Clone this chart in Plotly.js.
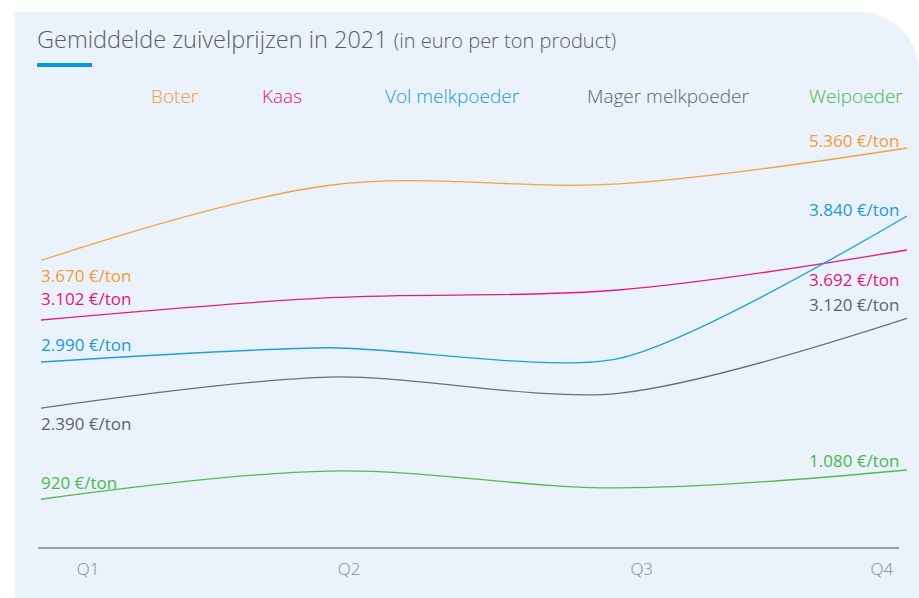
<!DOCTYPE html>
<html><head><meta charset="utf-8">
<script src="https://cdn.plot.ly/plotly-3.0.1.min.js"></script>
<style>
html,body{margin:0;padding:0;background:#ffffff;width:919px;height:598px;overflow:hidden;}
#panel{position:absolute;left:15px;top:12px;width:904px;height:586px;background:#eaf2fb;border-top-right-radius:60px;}
#chart{position:absolute;left:0;top:0;width:919px;height:598px;}
</style></head><body>
<div id="panel"></div><div id="chart"></div>
<script>
// ---- data (euro per ton product) ----
const quarters = ['Q1', 'Q2', 'Q3', 'Q4'];
const seriesNames = ['Boter', 'Kaas', 'Vol melkpoeder', 'Mager melkpoeder', 'Weipoeder'];
const boter = [3670, 4800, 4820, 5360];
const kaas = [3102, 3290, 3355, 3692];
const volMelkpoeder = [2990, 3073, 3010, 3840];
const magerMelkpoeder = [2390, 2642, 2510, 3120];
const weipoeder = [920, 1074, 982, 1080];
const startLabels = ['3.670 €/ton', '3.102 €/ton', '2.990 €/ton', '2.390 €/ton', '920 €/ton'];
const endLabels = ['5.360 €/ton', '3.692 €/ton', '3.840 €/ton', '3.120 €/ton', '1.080 €/ton'];

// ---- styling ----
const colors = ['#f39b35', '#e3157f', '#1a9ad8', '#606366', '#4bb74a'];
const lineColors = ['#f5a140', '#e51b84', '#1d9fdc', '#6b6e71', '#52bb4f'];
const smooth = [1, 1, 0.7, 0.85, 1];
const values = [boter, kaas, volMelkpoeder, magerMelkpoeder, weipoeder];
const axisRanges = [[-648, 5780], [1180, 4788], [1907, 4399], [1251, 4734], [654, 2991]];
const startShift = [-15.5, 22, 18, -15, 17];
const endShift = [7, -29, 7, 14, 9];
const legendX = [0.1547, 0.2783, 0.4746, 0.724, 0.941];
const tickPos = [0.163, 1.067, 2.081, 2.913];
const xIdx = quarters.map((q, i) => i);
const FONT = 'Open Sans, Noto Sans, sans-serif';

const traces = values.map((v, i) => ({
  type: 'scatter', mode: 'lines', name: seriesNames[i],
  x: xIdx, y: v, yaxis: i === 0 ? 'y' : 'y' + (i + 1),
  line: {color: lineColors[i], width: 1.3, shape: 'spline', smoothing: smooth[i]},
  hoverinfo: 'skip', showlegend: false
}));

const annotations = [];
values.forEach((v, i) => {
  const yref = i === 0 ? 'y' : 'y' + (i + 1);
  annotations.push({x: 0, y: v[0], xref: 'x', yref: yref, text: startLabels[i], showarrow: false,
    xanchor: 'left', yanchor: 'middle', xshift: -2, yshift: startShift[i],
    font: {family: FONT, size: 17, color: colors[i]}});
  annotations.push({x: xIdx[xIdx.length - 1], y: v[v.length - 1], xref: 'x', yref: yref, text: endLabels[i], showarrow: false,
    xanchor: 'right', yanchor: 'middle', xshift: -6, yshift: endShift[i],
    font: {family: FONT, size: 17, color: colors[i]}});
  annotations.push({x: legendX[i], y: 1.056, xref: 'paper', yref: 'paper', text: seriesNames[i], showarrow: false,
    xanchor: 'center', yanchor: 'middle',
    font: {family: FONT, size: 19, weight: 300, color: colors[i]}});
});

const layout = {
  width: 919, height: 598,
  margin: {l: 41, r: 12, t: 120, b: 50},
  paper_bgcolor: 'rgba(0,0,0,0)', plot_bgcolor: 'rgba(0,0,0,0)',
  title: {
    text: 'Gemiddelde zuivelprijzen in 2021 <span style="font-size:20px">(in euro per ton product)</span>',
    x: 37 / 919, xref: 'container', xanchor: 'left',
    y: 1 - 40 / 598, yref: 'container', yanchor: 'middle',
    font: {family: FONT, size: 23.5, weight: 300, color: '#5a5d60'}
  },
  xaxis: {range: [0, 3], showgrid: false, zeroline: false, showline: false,
    tickvals: tickPos, ticktext: quarters, ticks: '', ticklabelstandoff: 9,
    tickfont: {family: FONT, size: 17, weight: 300, color: '#868c91'}, fixedrange: true},
  annotations: annotations,
  shapes: [
    {type: 'line', xref: 'paper', yref: 'paper', x0: -0.0035, x1: 0.9908, y0: 0, y1: 0,
      line: {color: '#9aa1a6', width: 2}},
    {type: 'rect', xref: 'paper', yref: 'paper', x0: -0.0046, x1: 0.0589, y0: 1.1238, y1: 1.1332,
      fillcolor: '#0a96d8', line: {width: 0}}
  ]
};
axisRanges.forEach((r, i) => {
  const key = i === 0 ? 'yaxis' : 'yaxis' + (i + 1);
  layout[key] = {range: r, visible: false, fixedrange: true};
  if (i > 0) layout[key].overlaying = 'y';
});

Plotly.newPlot('chart', traces, layout, {displayModeBar: false, staticPlot: true});
</script>
</body></html>
